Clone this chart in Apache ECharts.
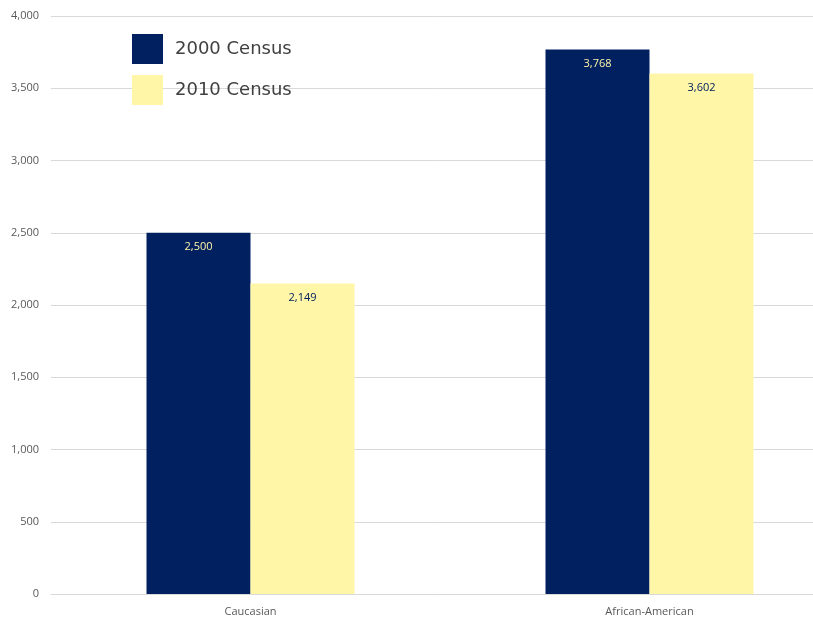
<!DOCTYPE html>
<html><head><meta charset="utf-8">
<script src="https://cdn.jsdelivr.net/npm/echarts@6/dist/echarts.min.js"></script>
<style>html,body{margin:0;padding:0;background:#fff}#c{width:813px;height:618px}</style>
</head><body><div id="c"></div>
<script>
const categories = ['Caucasian', 'African-American'];
const census2000 = [2500, 3768];
const census2010 = [2149, 3602];
const yTicks = [0, 500, 1000, 1500, 2000, 2500, 3000, 3500, 4000];

const chart = echarts.init(document.getElementById('c'));
const lblFont = "'Open Sans', 'Liberation Sans', sans-serif";
chart.setOption({
  animation: false,
  grid: { left: 51, width: 798, top: 16, bottom: 24, containLabel: false, outerBoundsMode: 'none' },
  legend: {
    orient: 'vertical', left: 127, top: 29,
    itemWidth: 31, itemHeight: 30, itemGap: 11,
    textStyle: { fontFamily: "'DejaVu Sans', sans-serif", fontSize: 18, color: '#404040', padding: [0, 0, 0, 7] },
    icon: 'rect',
    data: ['2000 Census', '2010 Census']
  },
  xAxis: {
    type: 'category', data: categories,
    axisLine: { lineStyle: { color: '#d9d9d9' } },
    axisTick: { show: false },
    axisLabel: { color: '#595959', fontSize: 11, fontFamily: lblFont, margin: 12 }
  },
  yAxis: {
    type: 'value', min: 0, max: 4000, interval: 500,
    axisLine: { show: false }, axisTick: { show: false },
    splitLine: { lineStyle: { color: '#d9d9d9' } },
    axisLabel: { color: '#595959', fontSize: 11, fontFamily: lblFont, margin: 12,
      formatter: v => yTicks.includes(v) ? v.toLocaleString('en-US') : '' }
  },
  series: [
    { name: '2000 Census', type: 'bar', data: census2000, barWidth: 104, barGap: '0%',
      itemStyle: { color: '#002060' },
      label: { show: true, position: 'insideTop', distance: 9, color: '#FFF5A8', fontSize: 11, fontFamily: lblFont,
        formatter: p => p.value.toLocaleString('en-US') } },
    { name: '2010 Census', type: 'bar', data: census2010, barWidth: 104,
      itemStyle: { color: '#FFF6A8' },
      label: { show: true, position: 'insideTop', distance: 9, color: '#002060', fontSize: 11, fontFamily: lblFont,
        formatter: p => p.value.toLocaleString('en-US') } }
  ]
});
</script></body></html>
